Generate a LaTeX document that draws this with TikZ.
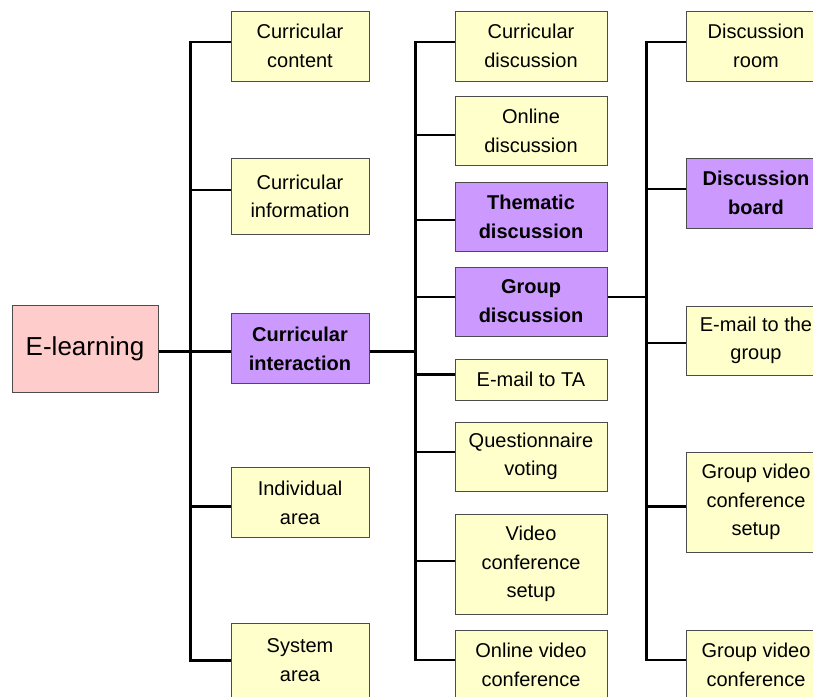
\documentclass[tikz,border=0pt]{standalone}
\usepackage{fontspec}
\setmainfont{Liberation Sans}
\definecolor{boxyellow}{HTML}{FFFFCC}
\definecolor{boxpurple}{HTML}{CC99FF}
\definecolor{boxpink}{HTML}{FFCCCC}
\begin{document}
\begin{tikzpicture}[x=1pt,y=-1pt,
  box/.style={draw=black!70,line width=1pt,fill=boxyellow,align=center,inner sep=0pt,
    font=\fontsize{20}{28.5}\selectfont},
  hbox/.style={box,fill=boxpurple,font=\fontsize{20}{29}\selectfont\bfseries},
  link/.style={line width=2.6pt},
  trunk/.style={link,line cap=rect}]
\clip (0,0) rectangle (813,696);
\node[box,fill=boxpink,minimum width=146,minimum height=87,font=\fontsize{26}{30}\selectfont] (el) at (85,348.5) {E-learning};
% first column
\node[box,minimum width=138,minimum height=70] (cc) at (300,46) {Curricular\\content};
\node[box,minimum width=138,minimum height=76] (cinf) at (300,196.5) {Curricular\\information};
\node[hbox,minimum width=138,minimum height=70] (ci) at (300,348.5) {Curricular\\interaction};
\node[box,minimum width=138,minimum height=70] (ia) at (300,502.7) {Individual\\area};
\node[box,minimum width=138,minimum height=74] (sa) at (300,660) {System\\area};
% second column
\node[box,minimum width=152,minimum height=70] (cd) at (531,46) {Curricular\\discussion};
\node[box,minimum width=152,minimum height=69] (od) at (531,131) {Online\\discussion};
\node[hbox,minimum width=152,minimum height=69] (td) at (531,216.5) {Thematic\\discussion};
\node[hbox,minimum width=152,minimum height=69] (gd) at (531,301.5) {Group\\discussion};
\node[box,minimum width=152,minimum height=41] (et) at (531,379.5) {E-mail to TA};
\node[box,minimum width=152,minimum height=69] (qv) at (531,456.5) {Questionnaire\\voting};
\node[box,minimum width=152,minimum height=100] (vc) at (531,564) {Video\\conference\\setup};
\node[box,minimum width=152,minimum height=70] (ov) at (531,665) {Online video\\conference};
% third column
\node[box,minimum width=140,minimum height=70] (dr) at (756,46) {Discussion\\room};
\node[hbox,minimum width=140,minimum height=70] (db) at (756,193) {Discussion\\board};
\node[box,minimum width=140,minimum height=69] (eg) at (756,340.5) {E-mail to the\\group};
\node[box,minimum width=140,minimum height=100] (gs) at (756,502) {Group video\\conference\\setup};
\node[box,minimum width=140,minimum height=70] (gv) at (756,665) {Group video\\conference};
% connectors
\foreach \n/\s in {cc/4,cinf/6.5,ci/-3,ia/-4,sa/-0.7}
  \draw[link] ([yshift=\s]\n.west) -- +(-40,0) coordinate (\n-b);
\foreach \n/\s in {cd/4,od/-4,td/-3.5,gd/4.5,et/5,qv/4.5,vc/3,ov/5}
  \draw[link] ([yshift=\s]\n.west) -- +(-39,0) coordinate (\n-b);
\foreach \n/\s in {dr/4,db/4,eg/-2.5,gs/-4.5,gv/5}
  \draw[link] ([yshift=\s]\n.west) -- +(-39,0) coordinate (\n-b);
\draw[trunk] (cc-b) -- (sa-b);
\draw[trunk] (cd-b) -- (ov-b);
\draw[trunk] (dr-b) -- (gv-b);
\draw[link] ([yshift=-3]el.east) -- ([yshift=-3]ci.west);
\draw[link] ([yshift=-3]ci.east) -- +(47,0);
\draw[link] ([yshift=4.5]gd.east) -- +(40,0);
\end{tikzpicture}
\end{document}
